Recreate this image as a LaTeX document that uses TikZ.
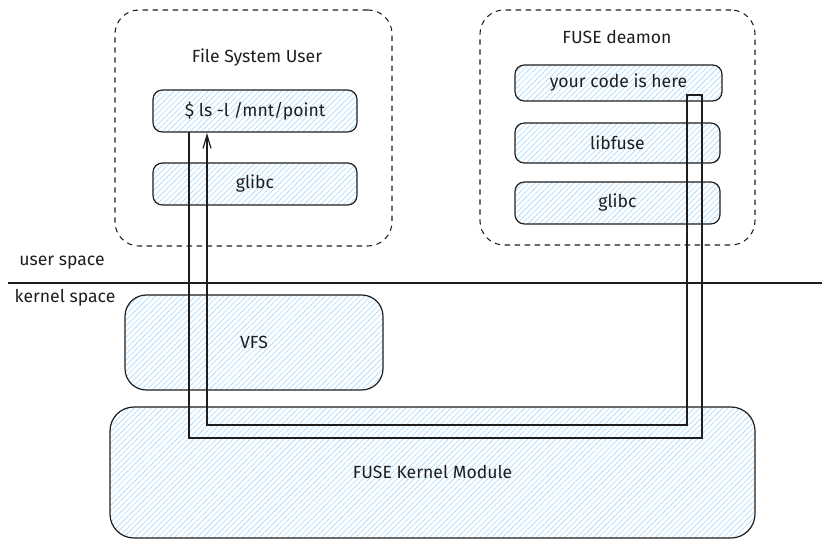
\documentclass[tikz,border=0pt]{standalone}
\usepackage{fontspec}
\setmainfont{Fira Sans}
\usetikzlibrary{arrows.meta, patterns.meta}
\definecolor{ink}{HTML}{1E1E1E}
\definecolor{wash}{HTML}{F3F9FF}
\definecolor{hatch}{HTML}{A5D8FF}
\newcommand{\pxu}{0.75pt}

\begin{document}
\begin{tikzpicture}[
    x=0.75pt, y=-0.75pt,
    every node/.style={font=\fontsize{13.2}{15}\selectfont, text=ink},
    wire/.style={-{Straight Barb[length=10pt, width=6pt]}, line width=0.9pt, color=ink},
    dbox/.style={rectangle, rounded corners=18pt, draw=ink, line width=0.8pt,
        dash pattern=on 4pt off 3.5pt},
    blk/.style={rectangle, rounded corners=7pt, draw=ink, line width=0.9pt,
        fill=wash, pattern={Lines[angle=45, distance=3pt, line width=0.45pt]},
        pattern color=hatch},
]
\useasboundingbox (0,0) rectangle (832,548);

% ================================================================ user side
\node[dbox, minimum width=277*\pxu, minimum height=236*\pxu] (userbox) at (253.5,128) {};
\node (fsuser) at (257,58) {File System User};
\node[blk, minimum width=204*\pxu, minimum height=42*\pxu] (ls) at (255,111) {\$ ls -l /mnt/point};
\node[blk, minimum width=204*\pxu, minimum height=42*\pxu] (glibca) at (255,184) {glibc};

% ================================================================ daemon side
\node[dbox, minimum width=275*\pxu, minimum height=235*\pxu] (daemon) at (617.5,127.5) {};
\node (fusedaemon) at (617,37) {FUSE deamon};
\node[blk, minimum width=207*\pxu, minimum height=36*\pxu] (code) at (618.5,83) {your code is here};
\node[blk, minimum width=205*\pxu, minimum height=40*\pxu] (libfuse) at (617.5,143) {libfuse};
\node[blk, minimum width=205*\pxu, minimum height=42*\pxu] (glibcb) at (617.5,203) {glibc};

% ================================================================ split
\node (user) at (62,263) {user space};
\draw[ink, line width=0.8pt] (8,283) -- (822,283);
\node (kernel) at (65,298) {kernel space};

% ================================================================ kernel
\node[blk, rounded corners=16pt, minimum width=258*\pxu, minimum height=95*\pxu] (vfs) at (254,342.5) {VFS};
\node[blk, rounded corners=18pt, minimum width=645*\pxu, minimum height=131*\pxu] (fkm) at (432.5,472.5) {FUSE Kernel Module};

% ================================================================ call path
\coordinate (down) at (189,132);
\coordinate (turn) at (702,95);
\coordinate (back) at (687,95);
\coordinate (up) at (207,133);
\draw[wire] (down) |- (702,438) -- (turn) -- (back) |- (207,425) -- (up);

\end{tikzpicture}
\end{document}
